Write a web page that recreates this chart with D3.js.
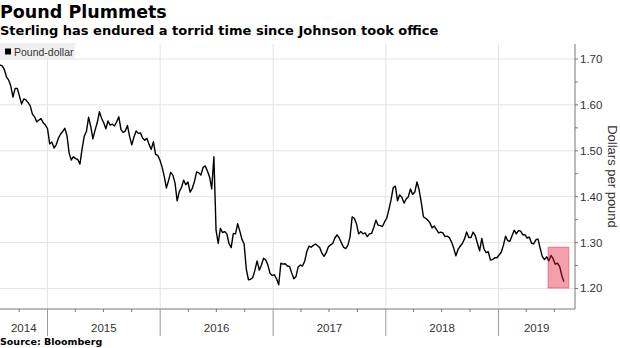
<!DOCTYPE html>
<html>
<head>
<meta charset="utf-8">
<script src="https://cdn.jsdelivr.net/npm/d3@7"></script>
<style>
  body { margin: 0; background: #fff; }
  svg { display: block; }
  text { font-family: "Liberation Sans", Arial, sans-serif; }
</style>
</head>
<body>
<div id="chart"></div>
<script>
// weekly GBP/USD closes, starting 31 Jul 2014
const seriesStart = "2014-07-31";
const poundDollar = [
  1.687,1.685,1.677,1.661,1.654,1.641,1.617,1.636,1.636,1.619,
  1.602,1.613,1.611,1.605,1.598,1.580,1.574,1.563,1.567,1.570,
  1.561,1.556,1.548,1.515,1.519,1.506,1.513,1.527,1.536,1.542,
  1.549,1.533,1.495,1.480,1.487,1.483,1.481,1.471,1.504,1.532,
  1.542,1.573,1.553,1.526,1.545,1.561,1.585,1.571,1.561,1.548,
  1.565,1.556,1.558,1.554,1.563,1.574,1.546,1.540,1.543,1.555,
  1.531,1.513,1.530,1.543,1.538,1.539,1.528,1.523,1.527,1.514,
  1.503,1.520,1.492,1.490,1.480,1.465,1.445,1.419,1.435,1.453,
  1.447,1.430,1.391,1.411,1.420,1.436,1.426,1.432,1.410,1.418,
  1.433,1.454,1.452,1.447,1.464,1.467,1.456,1.443,1.417,1.487,
  1.327,1.298,1.331,1.322,1.324,1.319,1.298,1.289,1.320,1.319,
  1.341,1.325,1.307,1.297,1.242,1.219,1.220,1.224,1.240,1.260,
  1.240,1.251,1.266,1.262,1.251,1.233,1.228,1.230,1.221,1.208,
  1.255,1.253,1.254,1.249,1.248,1.234,1.221,1.226,1.247,1.251,
  1.249,1.259,1.280,1.292,1.290,1.294,1.297,1.293,1.289,1.277,
  1.270,1.278,1.291,1.295,1.298,1.310,1.317,1.310,1.300,1.290,
  1.287,1.294,1.312,1.356,1.353,1.341,1.319,1.324,1.319,1.321,
  1.313,1.319,1.320,1.333,1.349,1.338,1.337,1.335,1.345,1.353,
  1.372,1.393,1.420,1.423,1.391,1.404,1.399,1.386,1.395,1.400,
  1.417,1.405,1.410,1.432,1.415,1.387,1.356,1.353,1.349,1.343,
  1.332,1.336,1.329,1.321,1.323,1.321,1.313,1.314,1.311,1.301,
  1.288,1.271,1.285,1.292,1.298,1.308,1.323,1.311,1.311,1.323,
  1.315,1.298,1.282,1.309,1.286,1.278,1.280,1.262,1.263,1.267,
  1.267,1.273,1.279,1.294,1.314,1.304,1.303,1.315,1.327,1.319,
  1.326,1.325,1.317,1.317,1.310,1.312,1.299,1.297,1.306,1.308,
  1.288,1.270,1.263,1.269,1.260,1.272,1.265,1.253,1.255,1.248,
  1.229,1.215
];
const yTicks = [1.20, 1.30, 1.40, 1.50, 1.60, 1.70];
const yearLabels = ["2014", "2015", "2016", "2017", "2018", "2019"];
// shaded period since Johnson became PM
const highlightDates = ["2019-06-11", "2019-08-17"];
const highlightRange = [1.201, 1.290];

const W = 620, H = 348;
const plot = {left: 0, right: 575, top: 44, bottom: 309};

const parse = d3.timeParse("%Y-%m-%d");
const t0 = parse(seriesStart);
const data = poundDollar.map((v, i) => ({date: d3.timeDay.offset(t0, i * 7), value: v}));

const x = d3.scaleTime()
    .domain([parse("2014-07-31"), parse("2019-09-06")])
    .range([plot.left, plot.right]);
const y = d3.scaleLinear()
    .domain([1.1553, 1.7327])
    .range([plot.bottom, plot.top]);

const svg = d3.select("#chart").append("svg")
    .attr("width", W).attr("height", H);

// titles
svg.append("text").attr("x", 0).attr("y", 18)
    .style("font-family", "'DejaVu Sans', Verdana, sans-serif")
    .style("font-weight", "bold").style("font-size", "17.5px")
    .text("Pound Plummets");
svg.append("text").attr("x", 0).attr("y", 35)
    .style("font-family", "'DejaVu Sans', Verdana, sans-serif")
    .style("font-weight", "bold").style("font-size", "13px")
    .text("Sterling has endured a torrid time since Johnson took office");

// gridlines
const years = d3.timeYear.range(parse("2015-01-01"), x.domain()[1]);
svg.append("g").selectAll("line").data(yTicks).join("line")
    .attr("x1", plot.left).attr("x2", plot.right)
    .attr("y1", d => y(d)).attr("y2", d => y(d))
    .attr("stroke", "#e4e4e4");
svg.append("g").selectAll("line").data(years).join("line")
    .attr("x1", d => x(d)).attr("x2", d => x(d))
    .attr("y1", plot.top).attr("y2", plot.bottom)
    .attr("stroke", "#e4e4e4");

// legend
svg.append("rect").attr("x", 0).attr("y", 43).attr("width", 75).attr("height", 16)
    .attr("fill", "#efefef");
svg.append("rect").attr("x", 5).attr("y", 48.5).attr("width", 6).attr("height", 6)
    .attr("fill", "#000");
svg.append("text").attr("x", 14).attr("y", 55.5)
    .style("font-size", "10.5px").attr("fill", "#333")
    .text("Pound-dollar");

// line
const line = d3.line().x(d => x(d.date)).y(d => y(d.value));
svg.append("path").datum(data)
    .attr("d", line)
    .attr("fill", "none")
    .attr("stroke", "#000")
    .attr("stroke-width", 1.4)
    .attr("stroke-linejoin", "round");

// highlight box
svg.append("rect")
    .attr("x", x(parse(highlightDates[0])))
    .attr("y", y(highlightRange[1]))
    .attr("width", x(parse(highlightDates[1])) - x(parse(highlightDates[0])))
    .attr("height", y(highlightRange[0]) - y(highlightRange[1]))
    .attr("fill", "#e1122a").attr("fill-opacity", 0.4)
    .attr("stroke", "#e1122a").attr("stroke-opacity", 0.45);

// right axis
const yMinor = d3.range(1.20, 1.731, 0.05);
const ya = svg.append("g").attr("transform", `translate(${plot.right},0)`);
ya.append("line").attr("y1", plot.top).attr("y2", plot.bottom).attr("stroke", "#777");
ya.selectAll(".mt").data(yMinor).join("line")
    .attr("x1", 0).attr("x2", 3)
    .attr("y1", d => y(d)).attr("y2", d => y(d))
    .attr("stroke", "#777");
ya.selectAll("text").data(yTicks).join("text")
    .attr("x", 5).attr("y", d => y(d) + 4)
    .style("font-size", "11.5px").attr("fill", "#333")
    .text(d => d.toFixed(2));
svg.append("text")
    .attr("transform", `translate(608,${(plot.top + plot.bottom) / 2 - 0}) rotate(90)`)
    .attr("text-anchor", "middle")
    .style("font-size", "13px").attr("fill", "#333")
    .text("Dollars per pound");

// bottom axis
const xa = svg.append("g");
xa.append("line").attr("x1", plot.left).attr("x2", plot.right)
    .attr("y1", plot.bottom).attr("y2", plot.bottom).attr("stroke", "#777");
const quarters = d3.timeMonth.every(3).range(x.domain()[0], x.domain()[1])
    .filter(d => d.getMonth() !== 0);
xa.selectAll(".q").data(quarters).join("line")
    .attr("x1", d => x(d)).attr("x2", d => x(d))
    .attr("y1", plot.bottom).attr("y2", plot.bottom + 3)
    .attr("stroke", "#777");
xa.selectAll(".yr").data(years).join("line")
    .attr("x1", d => x(d)).attr("x2", d => x(d))
    .attr("y1", plot.bottom).attr("y2", plot.bottom + 27)
    .attr("stroke", "#999");
const bounds = [x.domain()[0], ...years, x.domain()[1]];
xa.selectAll("text").data(yearLabels).join("text")
    .attr("x", (d, i) => (x(bounds[i]) + x(bounds[i + 1])) / 2)
    .attr("y", 332)
    .attr("text-anchor", "middle")
    .style("font-size", "11.5px").attr("fill", "#333")
    .text(d => d);

// source
svg.append("text").attr("x", 0).attr("y", 345)
    .style("font-family", "'DejaVu Sans', Verdana, sans-serif")
    .style("font-weight", "bold").style("font-size", "9.5px")
    .text("Source:  Bloomberg");
</script>
</body>
</html>
